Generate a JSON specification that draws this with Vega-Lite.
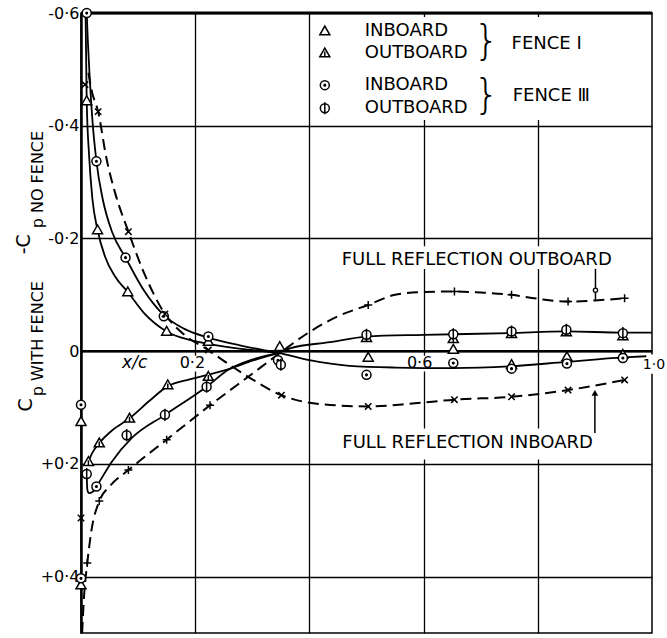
{
  "$schema": "https://vega.github.io/schema/vega-lite/v6.json",
  "width": 571,
  "height": 620,
  "autosize": "none",
  "padding": {"left": 81, "top": 13, "right": 15, "bottom": 5},
  "background": "white",
  "config": {
    "view": {"stroke": "black", "strokeWidth": 1.5},
    "font": "DejaVu Sans",
    "text": {"font": "DejaVu Sans", "color": "black"}
  },
  "datasets": {
    "curves": [
      {"curve": "inboard_I", "x": 0.008, "cp": -0.6},
      {"curve": "inboard_I", "x": 0.009, "cp": -0.52},
      {"curve": "inboard_I", "x": 0.01, "cp": -0.444},
      {"curve": "inboard_I", "x": 0.014, "cp": -0.35},
      {"curve": "inboard_I", "x": 0.02, "cp": -0.27},
      {"curve": "inboard_I", "x": 0.029, "cp": -0.215},
      {"curve": "inboard_I", "x": 0.042, "cp": -0.168},
      {"curve": "inboard_I", "x": 0.06, "cp": -0.132},
      {"curve": "inboard_I", "x": 0.082, "cp": -0.105},
      {"curve": "inboard_I", "x": 0.11, "cp": -0.068},
      {"curve": "inboard_I", "x": 0.15, "cp": -0.035},
      {"curve": "inboard_I", "x": 0.19, "cp": -0.02},
      {"curve": "inboard_I", "x": 0.223, "cp": -0.013},
      {"curve": "inboard_I", "x": 0.28, "cp": -0.004},
      {"curve": "inboard_I", "x": 0.345, "cp": 0.003},
      {"curve": "inboard_I", "x": 0.4, "cp": 0.016},
      {"curve": "inboard_I", "x": 0.47, "cp": 0.026},
      {"curve": "inboard_I", "x": 0.55, "cp": 0.029},
      {"curve": "inboard_I", "x": 0.65, "cp": 0.03},
      {"curve": "inboard_I", "x": 0.75, "cp": 0.027},
      {"curve": "inboard_I", "x": 0.85, "cp": 0.019},
      {"curve": "inboard_I", "x": 0.95, "cp": 0.011},
      {"curve": "inboard_I", "x": 0.99, "cp": 0.009},

      {"curve": "inboard_III", "x": 0.01, "cp": -0.6},
      {"curve": "inboard_III", "x": 0.012, "cp": -0.55},
      {"curve": "inboard_III", "x": 0.015, "cp": -0.49},
      {"curve": "inboard_III", "x": 0.02, "cp": -0.41},
      {"curve": "inboard_III", "x": 0.027, "cp": -0.337},
      {"curve": "inboard_III", "x": 0.038, "cp": -0.27},
      {"curve": "inboard_III", "x": 0.055, "cp": -0.21},
      {"curve": "inboard_III", "x": 0.078, "cp": -0.166},
      {"curve": "inboard_III", "x": 0.11, "cp": -0.108},
      {"curve": "inboard_III", "x": 0.145, "cp": -0.064},
      {"curve": "inboard_III", "x": 0.18, "cp": -0.04},
      {"curve": "inboard_III", "x": 0.223, "cp": -0.024},
      {"curve": "inboard_III", "x": 0.28, "cp": -0.01},
      {"curve": "inboard_III", "x": 0.345, "cp": 0.003},

      {"curve": "outboard_I", "x": 0.013, "cp": 0.196},
      {"curve": "outboard_I", "x": 0.02, "cp": 0.18},
      {"curve": "outboard_I", "x": 0.032, "cp": 0.163},
      {"curve": "outboard_I", "x": 0.055, "cp": 0.14},
      {"curve": "outboard_I", "x": 0.085, "cp": 0.119},
      {"curve": "outboard_I", "x": 0.12, "cp": 0.088},
      {"curve": "outboard_I", "x": 0.152, "cp": 0.062},
      {"curve": "outboard_I", "x": 0.19, "cp": 0.05},
      {"curve": "outboard_I", "x": 0.222, "cp": 0.042},
      {"curve": "outboard_I", "x": 0.264, "cp": 0.03},
      {"curve": "outboard_I", "x": 0.3, "cp": 0.017},
      {"curve": "outboard_I", "x": 0.345, "cp": 0.003},
      {"curve": "outboard_I", "x": 0.366, "cp": -0.005},
      {"curve": "outboard_I", "x": 0.436, "cp": -0.016},
      {"curve": "outboard_I", "x": 0.5, "cp": -0.026},
      {"curve": "outboard_I", "x": 0.6, "cp": -0.029},
      {"curve": "outboard_I", "x": 0.75, "cp": -0.032},
      {"curve": "outboard_I", "x": 0.85, "cp": -0.035},
      {"curve": "outboard_I", "x": 0.95, "cp": -0.033},
      {"curve": "outboard_I", "x": 1.0, "cp": -0.033},

      {"curve": "outboard_III", "x": 0.01, "cp": 0.218},
      {"curve": "outboard_III", "x": 0.011, "cp": 0.245},
      {"curve": "outboard_III", "x": 0.014, "cp": 0.252},
      {"curve": "outboard_III", "x": 0.02, "cp": 0.25},
      {"curve": "outboard_III", "x": 0.027, "cp": 0.24},
      {"curve": "outboard_III", "x": 0.054, "cp": 0.196},
      {"curve": "outboard_III", "x": 0.089, "cp": 0.154},
      {"curve": "outboard_III", "x": 0.147, "cp": 0.113},
      {"curve": "outboard_III", "x": 0.22, "cp": 0.063},
      {"curve": "outboard_III", "x": 0.258, "cp": 0.033},
      {"curve": "outboard_III", "x": 0.3, "cp": 0.015},
      {"curve": "outboard_III", "x": 0.345, "cp": 0.003},

      {"curve": "reflection_inboard", "x": 0.013, "cp": -0.494},
      {"curve": "reflection_inboard", "x": 0.018, "cp": -0.465},
      {"curve": "reflection_inboard", "x": 0.03, "cp": -0.425},
      {"curve": "reflection_inboard", "x": 0.045, "cp": -0.34},
      {"curve": "reflection_inboard", "x": 0.06, "cp": -0.28},
      {"curve": "reflection_inboard", "x": 0.083, "cp": -0.212},
      {"curve": "reflection_inboard", "x": 0.11, "cp": -0.14},
      {"curve": "reflection_inboard", "x": 0.147, "cp": -0.066},
      {"curve": "reflection_inboard", "x": 0.18, "cp": -0.03},
      {"curve": "reflection_inboard", "x": 0.223, "cp": -0.002},
      {"curve": "reflection_inboard", "x": 0.26, "cp": 0.024},
      {"curve": "reflection_inboard", "x": 0.3, "cp": 0.05},
      {"curve": "reflection_inboard", "x": 0.351, "cp": 0.078},
      {"curve": "reflection_inboard", "x": 0.42, "cp": 0.094},
      {"curve": "reflection_inboard", "x": 0.503, "cp": 0.098},
      {"curve": "reflection_inboard", "x": 0.58, "cp": 0.093},
      {"curve": "reflection_inboard", "x": 0.654, "cp": 0.086},
      {"curve": "reflection_inboard", "x": 0.754, "cp": 0.081},
      {"curve": "reflection_inboard", "x": 0.853, "cp": 0.069},
      {"curve": "reflection_inboard", "x": 0.952, "cp": 0.051},

      {"curve": "reflection_outboard", "x": 0.002, "cp": 0.5},
      {"curve": "reflection_outboard", "x": 0.005, "cp": 0.44},
      {"curve": "reflection_outboard", "x": 0.011, "cp": 0.376},
      {"curve": "reflection_outboard", "x": 0.018, "cp": 0.32},
      {"curve": "reflection_outboard", "x": 0.032, "cp": 0.266},
      {"curve": "reflection_outboard", "x": 0.05, "cp": 0.24},
      {"curve": "reflection_outboard", "x": 0.083, "cp": 0.211},
      {"curve": "reflection_outboard", "x": 0.15, "cp": 0.157},
      {"curve": "reflection_outboard", "x": 0.226, "cp": 0.096},
      {"curve": "reflection_outboard", "x": 0.3, "cp": 0.04},
      {"curve": "reflection_outboard", "x": 0.35, "cp": 0.002},
      {"curve": "reflection_outboard", "x": 0.4, "cp": -0.034},
      {"curve": "reflection_outboard", "x": 0.45, "cp": -0.062},
      {"curve": "reflection_outboard", "x": 0.503, "cp": -0.082},
      {"curve": "reflection_outboard", "x": 0.55, "cp": -0.1},
      {"curve": "reflection_outboard", "x": 0.6, "cp": -0.105},
      {"curve": "reflection_outboard", "x": 0.654, "cp": -0.106},
      {"curve": "reflection_outboard", "x": 0.7, "cp": -0.104},
      {"curve": "reflection_outboard", "x": 0.754, "cp": -0.1},
      {"curve": "reflection_outboard", "x": 0.8, "cp": -0.093},
      {"curve": "reflection_outboard", "x": 0.853, "cp": -0.088},
      {"curve": "reflection_outboard", "x": 0.9, "cp": -0.09},
      {"curve": "reflection_outboard", "x": 0.952, "cp": -0.094}
    ],
    "points": [
      {"series": "tri_in", "x": 0.01, "cp": -0.444},
      {"series": "tri_in", "x": 0.029, "cp": -0.215},
      {"series": "tri_in", "x": 0.082, "cp": -0.105},
      {"series": "tri_in", "x": 0.15, "cp": -0.035},
      {"series": "tri_in", "x": 0.223, "cp": -0.017},
      {"series": "tri_in", "x": 0.348, "cp": -0.008},
      {"series": "tri_in", "x": 0.0, "cp": 0.125},
      {"series": "tri_in", "x": 0.0, "cp": 0.415},
      {"series": "tri_in", "x": 0.503, "cp": 0.011},
      {"series": "tri_in", "x": 0.652, "cp": -0.003},
      {"series": "tri_in", "x": 0.754, "cp": 0.024},
      {"series": "tri_in", "x": 0.851, "cp": 0.01},
      {"series": "tri_in", "x": 0.949, "cp": 0.006},

      {"series": "circ_in", "x": 0.01, "cp": -0.6},
      {"series": "circ_in", "x": 0.027, "cp": -0.337},
      {"series": "circ_in", "x": 0.078, "cp": -0.166},
      {"series": "circ_in", "x": 0.145, "cp": -0.062},
      {"series": "circ_in", "x": 0.223, "cp": -0.026},
      {"series": "circ_in", "x": 0.345, "cp": 0.016},
      {"series": "circ_in", "x": 0.0, "cp": 0.095},
      {"series": "circ_in", "x": 0.0, "cp": 0.403},
      {"series": "circ_in", "x": 0.027, "cp": 0.24},
      {"series": "circ_in", "x": 0.5, "cp": 0.042},
      {"series": "circ_in", "x": 0.652, "cp": 0.021},
      {"series": "circ_in", "x": 0.754, "cp": 0.031},
      {"series": "circ_in", "x": 0.851, "cp": 0.022},
      {"series": "circ_in", "x": 0.949, "cp": 0.012},

      {"series": "tri_out", "x": 0.013, "cp": 0.196},
      {"series": "tri_out", "x": 0.032, "cp": 0.163},
      {"series": "tri_out", "x": 0.085, "cp": 0.119},
      {"series": "tri_out", "x": 0.152, "cp": 0.06},
      {"series": "tri_out", "x": 0.223, "cp": 0.045},
      {"series": "tri_out", "x": 0.5, "cp": -0.024},
      {"series": "tri_out", "x": 0.652, "cp": -0.022},
      {"series": "tri_out", "x": 0.754, "cp": -0.031},
      {"series": "tri_out", "x": 0.85, "cp": -0.034},
      {"series": "tri_out", "x": 0.949, "cp": -0.027},

      {"series": "circ_out", "x": 0.01, "cp": 0.218},
      {"series": "circ_out", "x": 0.08, "cp": 0.149},
      {"series": "circ_out", "x": 0.147, "cp": 0.113},
      {"series": "circ_out", "x": 0.22, "cp": 0.063},
      {"series": "circ_out", "x": 0.35, "cp": 0.024},
      {"series": "circ_out", "x": 0.5, "cp": -0.029},
      {"series": "circ_out", "x": 0.652, "cp": -0.03},
      {"series": "circ_out", "x": 0.754, "cp": -0.035},
      {"series": "circ_out", "x": 0.85, "cp": -0.038},
      {"series": "circ_out", "x": 0.949, "cp": -0.032},

      {"series": "cross", "x": 0.007, "cp": -0.473},
      {"series": "cross", "x": 0.03, "cp": -0.425},
      {"series": "cross", "x": 0.083, "cp": -0.212},
      {"series": "cross", "x": 0.147, "cp": -0.066},
      {"series": "cross", "x": 0.223, "cp": -0.002},
      {"series": "cross", "x": 0.351, "cp": 0.078},
      {"series": "cross", "x": 0.503, "cp": 0.098},
      {"series": "cross", "x": 0.654, "cp": 0.086},
      {"series": "cross", "x": 0.754, "cp": 0.081},
      {"series": "cross", "x": 0.853, "cp": 0.069},
      {"series": "cross", "x": 0.952, "cp": 0.051},
      {"series": "cross", "x": 0.0, "cp": 0.296},

      {"series": "plus", "x": 0.011, "cp": 0.376},
      {"series": "plus", "x": 0.032, "cp": 0.266},
      {"series": "plus", "x": 0.083, "cp": 0.211},
      {"series": "plus", "x": 0.15, "cp": 0.157},
      {"series": "plus", "x": 0.226, "cp": 0.096},
      {"series": "plus", "x": 0.503, "cp": -0.082},
      {"series": "plus", "x": 0.654, "cp": -0.106},
      {"series": "plus", "x": 0.754, "cp": -0.1},
      {"series": "plus", "x": 0.853, "cp": -0.088},
      {"series": "plus", "x": 0.952, "cp": -0.094}
    ]
  },
  "layer": [
    {
      "data": {"values": [{}]},
      "mark": {"type": "rect", "fill": "white"},
      "encoding": {
        "x": {"datum": 0.403, "scale": {"domain": [0, 1], "nice": false, "zero": false}, "title": null},
        "x2": {"datum": 0.997},
        "y": {"datum": -0.593, "scale": {"domain": [-0.6, 0.5], "reverse": true, "nice": false, "zero": false}, "title": null},
        "y2": {"datum": -0.41}
      }
    },
    {
      "data": {"values": [{}]},
      "mark": {"type": "rect", "fill": "white"},
      "encoding": {
        "x": {"datum": 0.43, "scale": {"domain": [0, 1], "nice": false, "zero": false}, "title": null},
        "x2": {"datum": 0.965},
        "y": {"datum": -0.186, "scale": {"domain": [-0.6, 0.5], "reverse": true, "nice": false, "zero": false}, "title": null},
        "y2": {"datum": -0.146}
      }
    },
    {
      "data": {"values": [{}]},
      "mark": {"type": "rect", "fill": "white"},
      "encoding": {
        "x": {"datum": 0.43, "scale": {"domain": [0, 1], "nice": false, "zero": false}, "title": null},
        "x2": {"datum": 0.96},
        "y": {"datum": 0.137, "scale": {"domain": [-0.6, 0.5], "reverse": true, "nice": false, "zero": false}, "title": null},
        "y2": {"datum": 0.192}
      }
    },
    {
      "data": {"values": [{}]},
      "mark": {"type": "rect", "fill": "white"},
      "encoding": {
        "x": {"datum": 0.172, "scale": {"domain": [0, 1], "nice": false, "zero": false}, "title": null},
        "x2": {"datum": 0.22},
        "y": {"datum": 0.008, "scale": {"domain": [-0.6, 0.5], "reverse": true, "nice": false, "zero": false}, "title": null},
        "y2": {"datum": 0.036}
      }
    },
    {
      "data": {"values": [{}]},
      "mark": {"type": "rect", "fill": "white"},
      "encoding": {
        "x": {"datum": 0.57, "scale": {"domain": [0, 1], "nice": false, "zero": false}, "title": null},
        "x2": {"datum": 0.617},
        "y": {"datum": 0.008, "scale": {"domain": [-0.6, 0.5], "reverse": true, "nice": false, "zero": false}, "title": null},
        "y2": {"datum": 0.036}
      }
    },
    {
      "data": {"values": [{}]},
      "mark": {"type": "rect", "fill": "white"},
      "encoding": {
        "x": {"datum": 0.982, "scale": {"domain": [0, 1], "nice": false, "zero": false}, "title": null},
        "x2": {"datum": 1.04},
        "y": {"datum": 0.006, "scale": {"domain": [-0.6, 0.5], "reverse": true, "nice": false, "zero": false}, "title": null},
        "y2": {"datum": 0.04}
      }
    },
    {
      "data": {"values": [{}]},
      "mark": {"type": "rule", "color": "black", "strokeWidth": 2.5},
      "encoding": {
        "x": {"datum": 0, "scale": {"domain": [0, 1], "nice": false, "zero": false}, "title": null},
        "x2": {"datum": 1},
        "y": {"datum": 0, "scale": {"domain": [-0.6, 0.5], "reverse": true, "nice": false, "zero": false}, "title": null}
      }
    },
    {
      "data": {"values": [{}]},
      "mark": {"type": "rule", "color": "black", "strokeWidth": 3},
      "encoding": {
        "x": {"datum": 0, "scale": {"domain": [0, 1], "nice": false, "zero": false}, "title": null},
        "x2": {"datum": 1},
        "y": {"datum": -0.6, "scale": {"domain": [-0.6, 0.5], "reverse": true, "nice": false, "zero": false}, "title": null}
      }
    },
    {
      "data": {"name": "curves"},
      "transform": [{"filter": "indexof(['inboard_I', 'inboard_III', 'outboard_I', 'outboard_III'], datum.curve) >= 0"}],
      "mark": {"type": "line", "interpolate": "monotone", "color": "black", "strokeWidth": 1.8},
      "encoding": {
        "x": {
          "field": "x", "type": "quantitative",
          "scale": {"domain": [0, 1], "nice": false, "zero": false},
          "title": null,
          "axis": {"values": [0.2, 0.4, 0.6, 0.8], "grid": true, "gridColor": "black", "gridWidth": 1.3, "gridOpacity": 1, "domain": false, "ticks": false, "labels": false, "title": null}
        },
        "y": {
          "field": "cp", "type": "quantitative",
          "scale": {"domain": [-0.6, 0.5], "reverse": true, "nice": false, "zero": false},
          "title": null,
          "axis": {
            "values": [-0.6, -0.4, -0.2, 0, 0.2, 0.4],
            "grid": true, "gridColor": "black", "gridWidth": 1.3, "gridOpacity": 1,
            "domain": true, "domainColor": "black", "domainWidth": 2.5,
            "ticks": false, "labelPadding": 2, "labelFontSize": 16, "labelColor": "black", "labelFont": "DejaVu Sans",
            "labelExpr": "datum.value == 0 ? '0' : (datum.value < 0 ? '-' : '+') + '0·' + format(abs(datum.value) * 10, '.0f')",
            "title": null
          }
        },
        "detail": {"field": "curve"}
      }
    },
    {
      "data": {"name": "curves"},
      "transform": [{"filter": "datum.curve == 'reflection_inboard' || datum.curve == 'reflection_outboard'"}],
      "mark": {"type": "line", "interpolate": "monotone", "color": "black", "strokeWidth": 2, "strokeDash": [11, 6]},
      "encoding": {
        "x": {"field": "x", "type": "quantitative", "scale": {"domain": [0, 1], "nice": false, "zero": false}, "title": null},
        "y": {"field": "cp", "type": "quantitative", "scale": {"domain": [-0.6, 0.5], "reverse": true, "nice": false, "zero": false}, "title": null},
        "detail": {"field": "curve"}
      }
    },
    {
      "data": {"name": "points"},
      "transform": [{"filter": "datum.series == 'tri_in'"}],
      "mark": {"type": "point", "shape": "M0,-1L1,0.75L-1,0.75Z", "size": 100, "filled": true, "fill": "white", "stroke": "black", "strokeWidth": 1.5, "opacity": 1},
      "encoding": {
        "x": {"field": "x", "type": "quantitative", "scale": {"domain": [0, 1], "nice": false, "zero": false}, "title": null},
        "y": {"field": "cp", "type": "quantitative", "scale": {"domain": [-0.6, 0.5], "reverse": true, "nice": false, "zero": false}, "title": null}
      }
    },
    {
      "data": {"name": "points"},
      "transform": [{"filter": "datum.series == 'tri_out'"}],
      "mark": {"type": "point", "shape": "M0,-1L1,0.75L-1,0.75Z M0,-0.3L0,0.75", "size": 100, "filled": true, "fill": "white", "stroke": "black", "strokeWidth": 1.5, "opacity": 1},
      "encoding": {
        "x": {"field": "x", "type": "quantitative", "scale": {"domain": [0, 1], "nice": false, "zero": false}, "title": null},
        "y": {"field": "cp", "type": "quantitative", "scale": {"domain": [-0.6, 0.5], "reverse": true, "nice": false, "zero": false}, "title": null}
      }
    },
    {
      "data": {"name": "points"},
      "transform": [{"filter": "datum.series == 'circ_in'"}],
      "mark": {"type": "point", "shape": "M1,0A1,1,0,1,1,-1,0A1,1,0,1,1,1,0Z M0.18,0A0.18,0.18,0,1,1,-0.18,0A0.18,0.18,0,1,1,0.18,0Z", "size": 81, "filled": true, "fill": "white", "stroke": "black", "strokeWidth": 1.5, "opacity": 1},
      "encoding": {
        "x": {"field": "x", "type": "quantitative", "scale": {"domain": [0, 1], "nice": false, "zero": false}, "title": null},
        "y": {"field": "cp", "type": "quantitative", "scale": {"domain": [-0.6, 0.5], "reverse": true, "nice": false, "zero": false}, "title": null}
      }
    },
    {
      "data": {"name": "points"},
      "transform": [{"filter": "datum.series == 'circ_out'"}],
      "mark": {"type": "point", "shape": "M1,0A1,1,0,1,1,-1,0A1,1,0,1,1,1,0Z M0,-1.35L0,1.35", "size": 81, "filled": true, "fill": "white", "stroke": "black", "strokeWidth": 1.5, "opacity": 1},
      "encoding": {
        "x": {"field": "x", "type": "quantitative", "scale": {"domain": [0, 1], "nice": false, "zero": false}, "title": null},
        "y": {"field": "cp", "type": "quantitative", "scale": {"domain": [-0.6, 0.5], "reverse": true, "nice": false, "zero": false}, "title": null}
      }
    },
    {
      "data": {"name": "points"},
      "transform": [{"filter": "datum.series == 'cross'"}],
      "mark": {"type": "point", "shape": "M-0.8,-0.8L0.8,0.8M-0.8,0.8L0.8,-0.8", "size": 64, "filled": false, "stroke": "black", "strokeWidth": 1.5, "opacity": 1},
      "encoding": {
        "x": {"field": "x", "type": "quantitative", "scale": {"domain": [0, 1], "nice": false, "zero": false}, "title": null},
        "y": {"field": "cp", "type": "quantitative", "scale": {"domain": [-0.6, 0.5], "reverse": true, "nice": false, "zero": false}, "title": null}
      }
    },
    {
      "data": {"name": "points"},
      "transform": [{"filter": "datum.series == 'plus'"}],
      "mark": {"type": "point", "shape": "M-1,0L1,0M0,-1L0,1", "size": 64, "filled": false, "stroke": "black", "strokeWidth": 1.5, "opacity": 1},
      "encoding": {
        "x": {"field": "x", "type": "quantitative", "scale": {"domain": [0, 1], "nice": false, "zero": false}, "title": null},
        "y": {"field": "cp", "type": "quantitative", "scale": {"domain": [-0.6, 0.5], "reverse": true, "nice": false, "zero": false}, "title": null}
      }
    },
    {
      "data": {"values": [{}]},
      "mark": {"type": "rule", "color": "black", "strokeWidth": 1.5},
      "encoding": {
        "x": {"datum": 0.9, "scale": {"domain": [0, 1], "nice": false, "zero": false}, "title": null},
        "y": {"datum": 0.145, "scale": {"domain": [-0.6, 0.5], "reverse": true, "nice": false, "zero": false}, "title": null},
        "y2": {"datum": 0.075}
      }
    },
    {
      "data": {"values": [{}]},
      "mark": {"type": "point", "shape": "triangle-up", "size": 45, "filled": true, "color": "black", "opacity": 1},
      "encoding": {
        "x": {"datum": 0.9, "scale": {"domain": [0, 1], "nice": false, "zero": false}, "title": null},
        "y": {"datum": 0.074, "scale": {"domain": [-0.6, 0.5], "reverse": true, "nice": false, "zero": false}, "title": null}
      }
    },
    {
      "data": {"values": [{}]},
      "mark": {"type": "rule", "color": "black", "strokeWidth": 1.5},
      "encoding": {
        "x": {"datum": 0.901, "scale": {"domain": [0, 1], "nice": false, "zero": false}, "title": null},
        "y": {"datum": -0.146, "scale": {"domain": [-0.6, 0.5], "reverse": true, "nice": false, "zero": false}, "title": null},
        "y2": {"datum": -0.09}
      }
    },
    {
      "data": {"values": [{}]},
      "mark": {"type": "point", "shape": "circle", "size": 18, "filled": true, "fill": "white", "stroke": "black", "strokeWidth": 1.3, "opacity": 1},
      "encoding": {
        "x": {"datum": 0.901, "scale": {"domain": [0, 1], "nice": false, "zero": false}, "title": null},
        "y": {"datum": -0.108, "scale": {"domain": [-0.6, 0.5], "reverse": true, "nice": false, "zero": false}, "title": null}
      }
    },
    {
      "data": {"values": [{}]},
      "mark": {"type": "point", "shape": "M0,-1L1,0.75L-1,0.75Z", "size": 100, "filled": true, "fill": "white", "stroke": "black", "strokeWidth": 1.5, "opacity": 1},
      "encoding": {
        "x": {"datum": 0.427, "scale": {"domain": [0, 1], "nice": false, "zero": false}, "title": null},
        "y": {"datum": -0.568, "scale": {"domain": [-0.6, 0.5], "reverse": true, "nice": false, "zero": false}, "title": null}
      }
    },
    {
      "data": {"values": [{}]},
      "mark": {"type": "point", "shape": "M0,-1L1,0.75L-1,0.75Z M0,-0.3L0,0.75", "size": 100, "filled": true, "fill": "white", "stroke": "black", "strokeWidth": 1.5, "opacity": 1},
      "encoding": {
        "x": {"datum": 0.427, "scale": {"domain": [0, 1], "nice": false, "zero": false}, "title": null},
        "y": {"datum": -0.529, "scale": {"domain": [-0.6, 0.5], "reverse": true, "nice": false, "zero": false}, "title": null}
      }
    },
    {
      "data": {"values": [{}]},
      "mark": {"type": "point", "shape": "M1,0A1,1,0,1,1,-1,0A1,1,0,1,1,1,0Z M0.18,0A0.18,0.18,0,1,1,-0.18,0A0.18,0.18,0,1,1,0.18,0Z", "size": 81, "filled": true, "fill": "white", "stroke": "black", "strokeWidth": 1.5, "opacity": 1},
      "encoding": {
        "x": {"datum": 0.427, "scale": {"domain": [0, 1], "nice": false, "zero": false}, "title": null},
        "y": {"datum": -0.472, "scale": {"domain": [-0.6, 0.5], "reverse": true, "nice": false, "zero": false}, "title": null}
      }
    },
    {
      "data": {"values": [{}]},
      "mark": {"type": "point", "shape": "M1,0A1,1,0,1,1,-1,0A1,1,0,1,1,1,0Z M0,-1.35L0,1.35", "size": 81, "filled": true, "fill": "white", "stroke": "black", "strokeWidth": 1.5, "opacity": 1},
      "encoding": {
        "x": {"datum": 0.427, "scale": {"domain": [0, 1], "nice": false, "zero": false}, "title": null},
        "y": {"datum": -0.431, "scale": {"domain": [-0.6, 0.5], "reverse": true, "nice": false, "zero": false}, "title": null}
      }
    },
    {
      "data": {"values": [{}]},
      "mark": {"type": "text", "text": "INBOARD", "fontSize": 18, "align": "left", "baseline": "middle"},
      "encoding": {
        "x": {"datum": 0.497, "scale": {"domain": [0, 1], "nice": false, "zero": false}, "title": null},
        "y": {"datum": -0.568, "scale": {"domain": [-0.6, 0.5], "reverse": true, "nice": false, "zero": false}, "title": null}
      }
    },
    {
      "data": {"values": [{}]},
      "mark": {"type": "text", "text": "OUTBOARD", "fontSize": 18, "align": "left", "baseline": "middle"},
      "encoding": {
        "x": {"datum": 0.497, "scale": {"domain": [0, 1], "nice": false, "zero": false}, "title": null},
        "y": {"datum": -0.529, "scale": {"domain": [-0.6, 0.5], "reverse": true, "nice": false, "zero": false}, "title": null}
      }
    },
    {
      "data": {"values": [{}]},
      "mark": {"type": "text", "text": "INBOARD", "fontSize": 18, "align": "left", "baseline": "middle"},
      "encoding": {
        "x": {"datum": 0.497, "scale": {"domain": [0, 1], "nice": false, "zero": false}, "title": null},
        "y": {"datum": -0.472, "scale": {"domain": [-0.6, 0.5], "reverse": true, "nice": false, "zero": false}, "title": null}
      }
    },
    {
      "data": {"values": [{}]},
      "mark": {"type": "text", "text": "OUTBOARD", "fontSize": 18, "align": "left", "baseline": "middle"},
      "encoding": {
        "x": {"datum": 0.497, "scale": {"domain": [0, 1], "nice": false, "zero": false}, "title": null},
        "y": {"datum": -0.431, "scale": {"domain": [-0.6, 0.5], "reverse": true, "nice": false, "zero": false}, "title": null}
      }
    },
    {
      "data": {"values": [{}]},
      "mark": {"type": "text", "text": "}", "fontSize": 40, "fontWeight": 300, "align": "center", "baseline": "middle"},
      "encoding": {
        "x": {"datum": 0.71, "scale": {"domain": [0, 1], "nice": false, "zero": false}, "title": null},
        "y": {"datum": -0.549, "scale": {"domain": [-0.6, 0.5], "reverse": true, "nice": false, "zero": false}, "title": null}
      }
    },
    {
      "data": {"values": [{}]},
      "mark": {"type": "text", "text": "}", "fontSize": 40, "fontWeight": 300, "align": "center", "baseline": "middle"},
      "encoding": {
        "x": {"datum": 0.71, "scale": {"domain": [0, 1], "nice": false, "zero": false}, "title": null},
        "y": {"datum": -0.452, "scale": {"domain": [-0.6, 0.5], "reverse": true, "nice": false, "zero": false}, "title": null}
      }
    },
    {
      "data": {"values": [{}]},
      "mark": {"type": "text", "text": "FENCE Ⅰ", "fontSize": 18, "align": "left", "baseline": "middle"},
      "encoding": {
        "x": {"datum": 0.754, "scale": {"domain": [0, 1], "nice": false, "zero": false}, "title": null},
        "y": {"datum": -0.545, "scale": {"domain": [-0.6, 0.5], "reverse": true, "nice": false, "zero": false}, "title": null}
      }
    },
    {
      "data": {"values": [{}]},
      "mark": {"type": "text", "text": "FENCE Ⅲ", "fontSize": 18, "align": "left", "baseline": "middle"},
      "encoding": {
        "x": {"datum": 0.756, "scale": {"domain": [0, 1], "nice": false, "zero": false}, "title": null},
        "y": {"datum": -0.453, "scale": {"domain": [-0.6, 0.5], "reverse": true, "nice": false, "zero": false}, "title": null}
      }
    },
    {
      "data": {"values": [{}]},
      "mark": {"type": "text", "text": "FULL REFLECTION  OUTBOARD", "fontSize": 18, "align": "center", "baseline": "middle"},
      "encoding": {
        "x": {"datum": 0.693, "scale": {"domain": [0, 1], "nice": false, "zero": false}, "title": null},
        "y": {"datum": -0.161, "scale": {"domain": [-0.6, 0.5], "reverse": true, "nice": false, "zero": false}, "title": null}
      }
    },
    {
      "data": {"values": [{}]},
      "mark": {"type": "text", "text": "FULL REFLECTION  INBOARD", "fontSize": 18, "align": "center", "baseline": "middle"},
      "encoding": {
        "x": {"datum": 0.677, "scale": {"domain": [0, 1], "nice": false, "zero": false}, "title": null},
        "y": {"datum": 0.163, "scale": {"domain": [-0.6, 0.5], "reverse": true, "nice": false, "zero": false}, "title": null}
      }
    },
    {
      "data": {"values": [{}]},
      "mark": {"type": "text", "text": "x/c", "fontSize": 17, "fontStyle": "italic", "align": "center", "baseline": "middle"},
      "encoding": {
        "x": {"datum": 0.094, "scale": {"domain": [0, 1], "nice": false, "zero": false}, "title": null},
        "y": {"datum": 0.021, "scale": {"domain": [-0.6, 0.5], "reverse": true, "nice": false, "zero": false}, "title": null}
      }
    },
    {
      "data": {"values": [{}]},
      "mark": {"type": "text", "text": "0·2", "fontSize": 16, "align": "center", "baseline": "middle"},
      "encoding": {
        "x": {"datum": 0.195, "scale": {"domain": [0, 1], "nice": false, "zero": false}, "title": null},
        "y": {"datum": 0.021, "scale": {"domain": [-0.6, 0.5], "reverse": true, "nice": false, "zero": false}, "title": null}
      }
    },
    {
      "data": {"values": [{}]},
      "mark": {"type": "text", "text": "0·6", "fontSize": 16, "align": "center", "baseline": "middle"},
      "encoding": {
        "x": {"datum": 0.593, "scale": {"domain": [0, 1], "nice": false, "zero": false}, "title": null},
        "y": {"datum": 0.021, "scale": {"domain": [-0.6, 0.5], "reverse": true, "nice": false, "zero": false}, "title": null}
      }
    },
    {
      "data": {"values": [{}]},
      "mark": {"type": "text", "text": "1·0", "fontSize": 14, "align": "left", "baseline": "middle"},
      "encoding": {
        "x": {"datum": 0.984, "scale": {"domain": [0, 1], "nice": false, "zero": false}, "title": null},
        "y": {"datum": 0.024, "scale": {"domain": [-0.6, 0.5], "reverse": true, "nice": false, "zero": false}, "title": null}
      }
    },
    {
      "data": {"values": [{}]},
      "mark": {"type": "text", "text": "-C", "fontSize": 19, "angle": 270, "align": "left", "baseline": "middle"},
      "encoding": {
        "x": {"datum": -0.1, "scale": {"domain": [0, 1], "nice": false, "zero": false}, "title": null},
        "y": {"datum": -0.172, "scale": {"domain": [-0.6, 0.5], "reverse": true, "nice": false, "zero": false}, "title": null}
      }
    },
    {
      "data": {"values": [{}]},
      "mark": {"type": "text", "text": "p NO FENCE", "fontSize": 16, "angle": 270, "align": "left", "baseline": "middle"},
      "encoding": {
        "x": {"datum": -0.075, "scale": {"domain": [0, 1], "nice": false, "zero": false}, "title": null},
        "y": {"datum": -0.218, "scale": {"domain": [-0.6, 0.5], "reverse": true, "nice": false, "zero": false}, "title": null}
      }
    },
    {
      "data": {"values": [{}]},
      "mark": {"type": "text", "text": "C", "fontSize": 19, "angle": 270, "align": "left", "baseline": "middle"},
      "encoding": {
        "x": {"datum": -0.096, "scale": {"domain": [0, 1], "nice": false, "zero": false}, "title": null},
        "y": {"datum": 0.107, "scale": {"domain": [-0.6, 0.5], "reverse": true, "nice": false, "zero": false}, "title": null}
      }
    },
    {
      "data": {"values": [{}]},
      "mark": {"type": "text", "text": "p WITH FENCE", "fontSize": 16, "angle": 270, "align": "left", "baseline": "middle"},
      "encoding": {
        "x": {"datum": -0.075, "scale": {"domain": [0, 1], "nice": false, "zero": false}, "title": null},
        "y": {"datum": 0.08, "scale": {"domain": [-0.6, 0.5], "reverse": true, "nice": false, "zero": false}, "title": null}
      }
    }
  ]
}
